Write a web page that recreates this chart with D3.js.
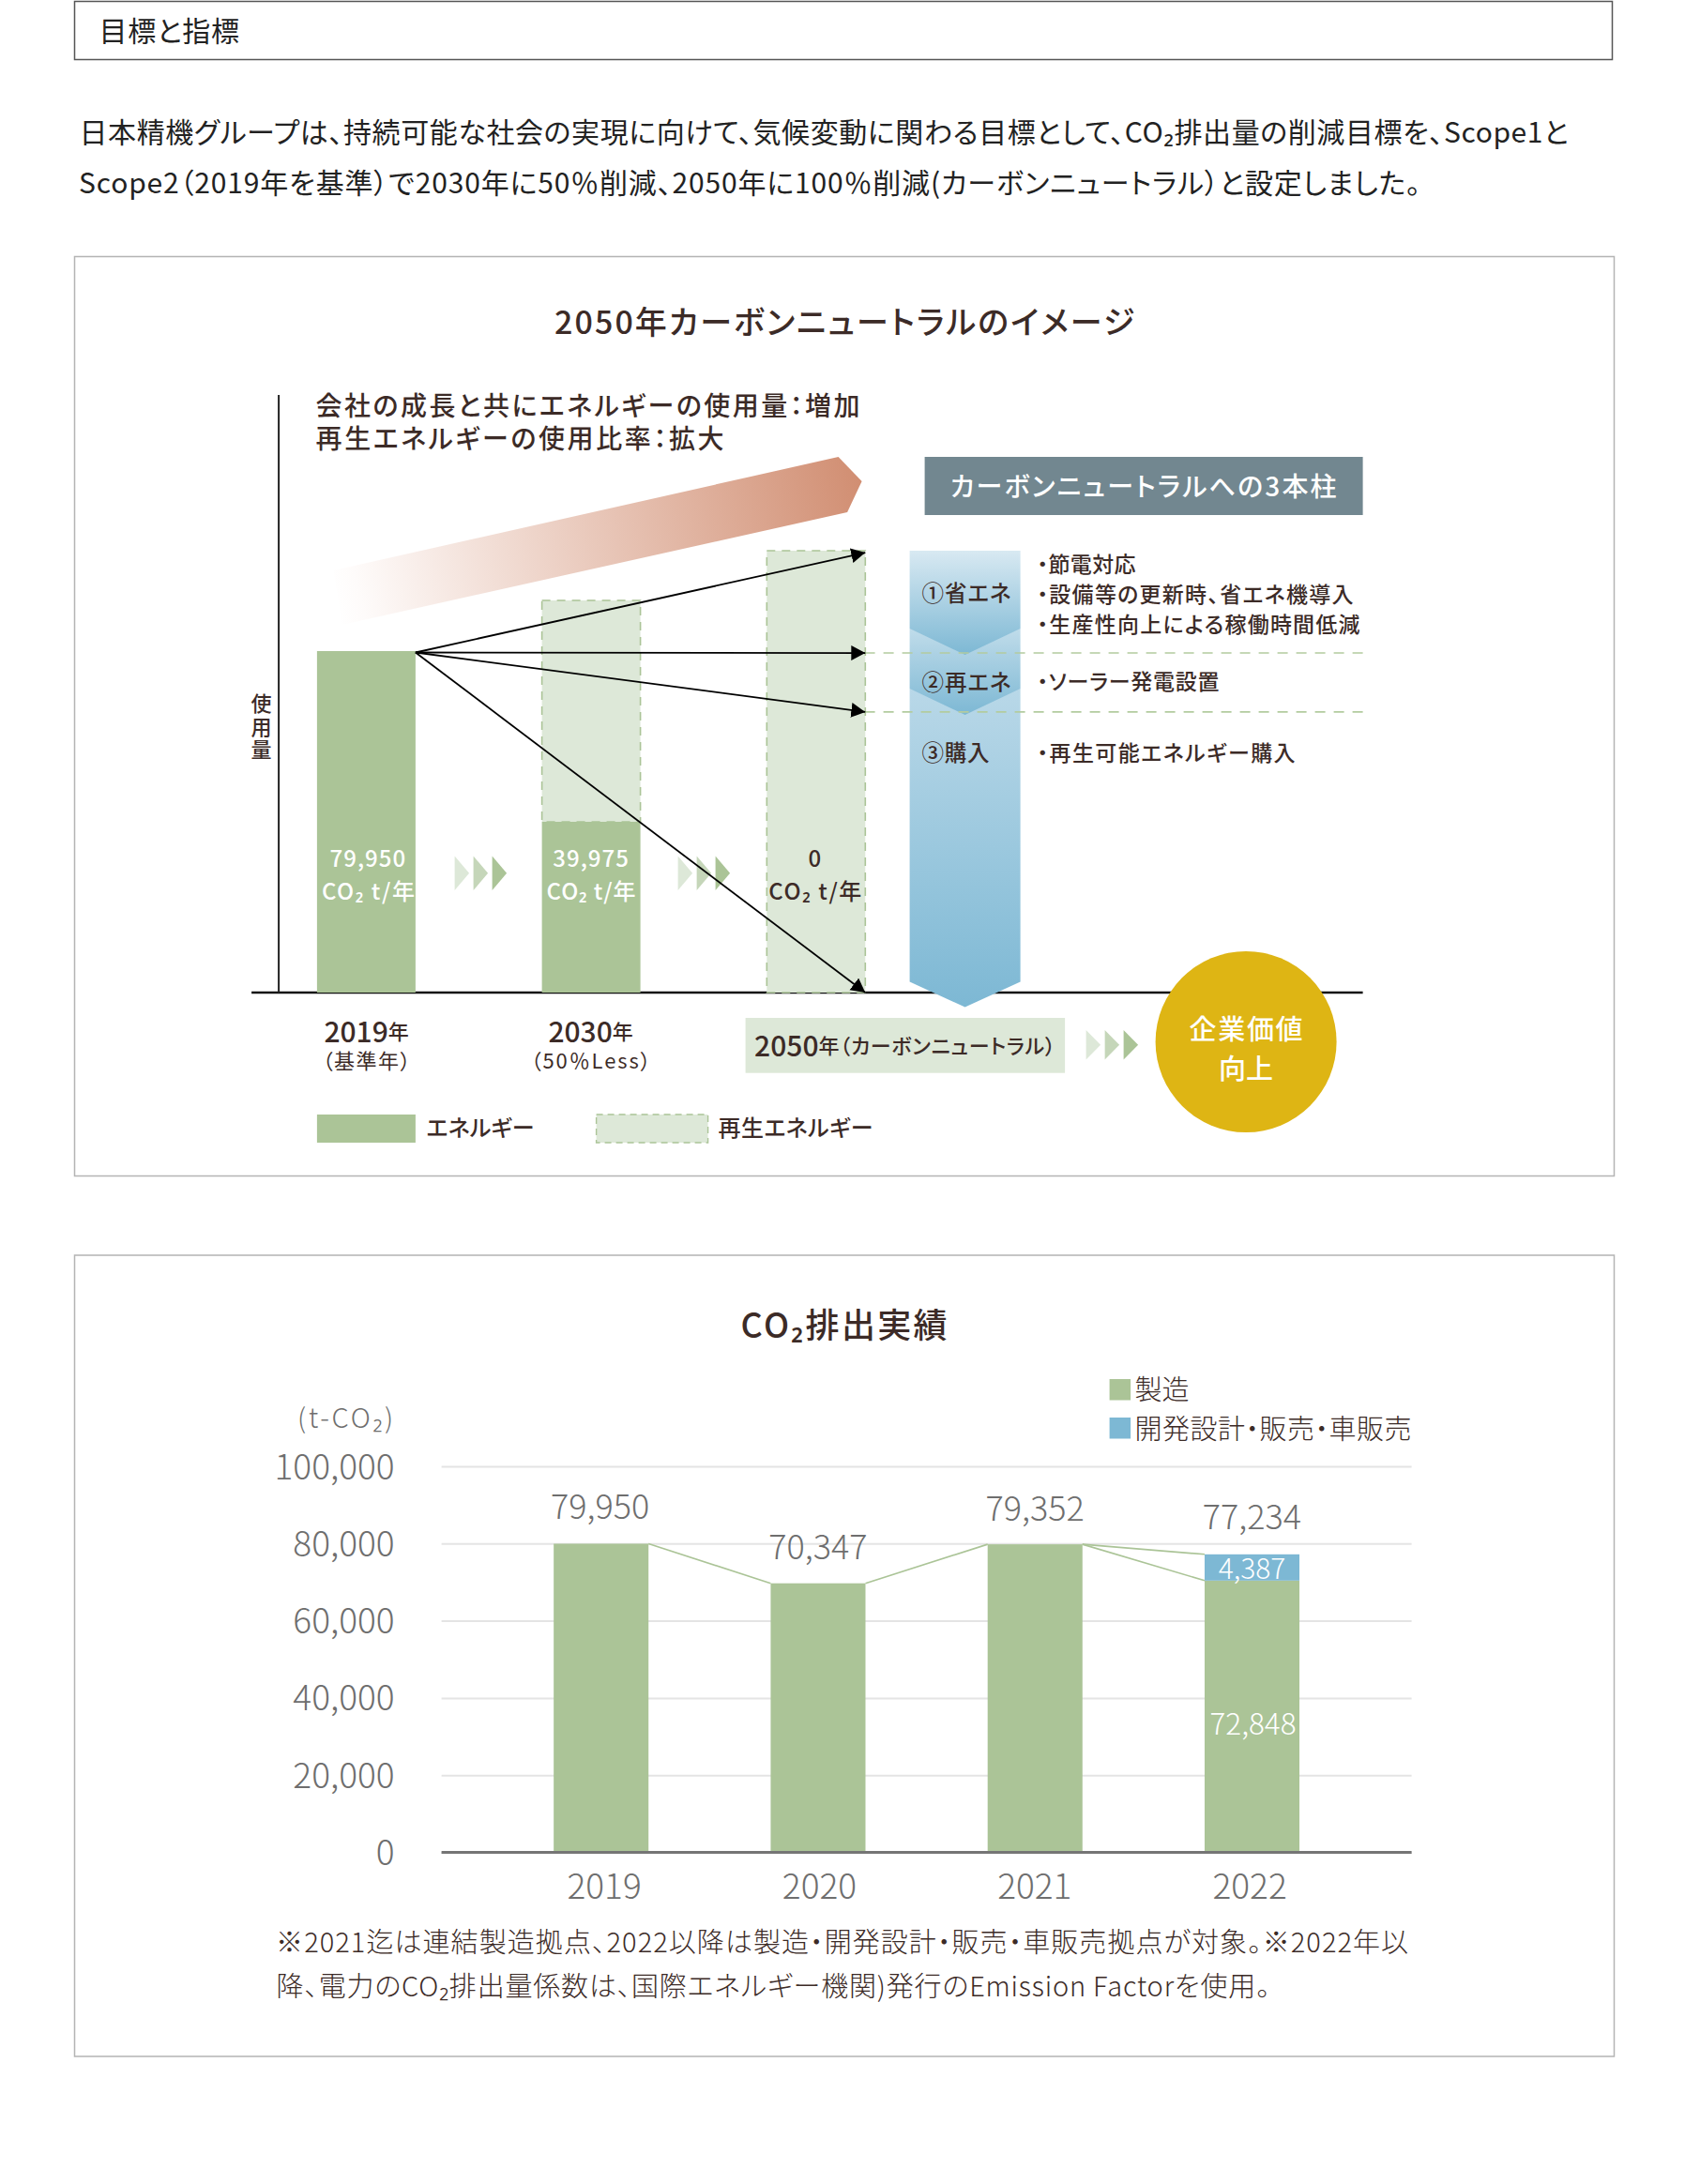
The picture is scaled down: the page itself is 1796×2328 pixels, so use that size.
<!DOCTYPE html>
<html lang="ja"><head><meta charset="utf-8">
<script src="https://cdn.jsdelivr.net/npm/d3@7/dist/d3.min.js"></script>
<style>
html,body{margin:0;padding:0;background:#fff}
svg{display:block}
text{font-family:"Noto Sans CJK JP","Noto Sans",sans-serif;font-feature-settings:"palt";dominant-baseline:central}
</style></head><body><div id="c"></div>
<script>
// ---- diagram data
const headingText = "目標と指標";
const introLines = ["日本精機グループは、持続可能な社会の実現に向けて、気候変動に関わる目標として、CO₂排出量の削減目標を、Scope1と",
  "Scope2（2019年を基準）で2030年に50％削減、2050年に100％削減(カーボンニュートラル）と設定しました。"];
const phases = ["2019","2030","2050"];
const energyValues = [79950,39975,0];          // CO2 energy part
const totalUsage = [79950,91800,103450];       // drawn height including renewables
const energyLabels = ["79,950","39,975","0"];
const arrowTargets = [103000,79500,65700,0];   // where the four arrows land
const pillarLevels = [79500,65700];            // dashed guide levels
const pillarNames = ["①省エネ","②再エネ","③購入"];
const pillarNotes = ["・節電対応","・設備等の更新時、省エネ機導入","・生産性向上による稼働時間低減","・ソーラー発電設置","・再生可能エネルギー購入"];
// ---- results chart data
const years = ["2019","2020","2021","2022"];
const manufacturing = [79950,69700,79800,70400]; // bar heights as drawn in the picture
const otherSites = [0,0,0,6800];                 // segment height as drawn in the picture
const totalLabels = ["79,950","70,347","79,352","77,234"];
const segmentLabels = ["4,387","72,848"];
const yTicks = [0,20000,40000,60000,80000,100000];
const legendLabels = ["製造","開発設計・販売・車販売"];
const notes = ["※2021迄は連結製造拠点、2022以降は製造・開発設計・販売・車販売拠点が対象。※2022年以",
  "降、電力のCO₂排出量係数は、国際エネルギー機関)発行のEmission Factorを使用。"];

const INK="#3c2b27", GREEN="#abc497", PALE="#dde8d8", MID="#c5d6b9", BLUE="#7db8d4";
const svg=d3.select("#c").append("svg").attr("width",1796).attr("height",2328).attr("viewBox","0 0 1796 2328");
const defs=svg.append("defs");

function T(g,s,x,y,o={}){
  const t=g.append("text").attr("x",x).attr("y",y-2.5).text(s)
    .attr("font-size",o.size||24).attr("font-weight",o.weight||400)
    .attr("fill",o.fill||INK).attr("text-anchor",o.anchor||"start");
  if(o.w) t.attr("textLength",o.w).attr("lengthAdjust","spacing");
  return t;
}
function grad(id,stops,x1,y1,x2,y2){
  const g=defs.append("linearGradient").attr("id",id).attr("gradientUnits","userSpaceOnUse")
    .attr("x1",x1).attr("y1",y1).attr("x2",x2).attr("y2",y2);
  stops.forEach(s=>g.append("stop").attr("offset",s[0]).attr("stop-color",s[1]));
}
const poly=(g,pts,fill)=>g.append("polygon").attr("points",pts.map(p=>p.join(",")).join(" ")).attr("fill",fill);

// heading + intro
svg.append("rect").attr("x",79.5).attr("y",1.5).attr("width",1639).attr("height",62).attr("fill","#fff").attr("stroke","#555").attr("stroke-width",1.5);
T(svg,headingText,105.5,33,{size:30,fill:"#222",w:149.5});
T(svg,introLines[0],84.5,141,{size:30,fill:"#222",w:1587});
T(svg,introLines[1],84,195.5,{size:30,fill:"#222",w:1430});

// panels
[[273.5,980],[1338,854]].forEach(p=>svg.append("rect").attr("x",79.5).attr("y",p[0]).attr("width",1641).attr("height",p[1])
  .attr("fill","#fff").attr("stroke","#b4b4b4").attr("stroke-width",1.5));

// ---------- panel 1
const p1=svg.append("g").attr("transform","translate(.6,0)");
T(p1,"2050年カーボンニュートラルのイメージ",590.5,343.5,{size:34,weight:500,w:618});

const x1=d3.scaleBand().domain(phases).range([337.3,921.7]).paddingInner(.562).paddingOuter(0);
const y1=d3.scaleLinear().domain([0,79950]).range([1058,694]);
T(p1,"会社の成長と共にエネルギーの使用量：増加",336,433,{size:28,weight:500,w:580});
T(p1,"再生エネルギーの使用比率：拡大",336,468,{size:28,weight:500,w:435});
grad("orange",[[0,"#fff"],[.05,"#fefbfa"],[1,"#d18e72"]],355,640,918,513);
poly(p1,[[355,608],[893,487],[918,513],[902.5,546],[364,666]],"url(#orange)");

// baseline
p1.append("line").attr("x1",267.5).attr("x2",1452).attr("y1",1058).attr("y2",1058).attr("stroke","#111").attr("stroke-width",2.5);

// pillar column
grad("b3",[[0,"#b9d8e8"],[1,BLUE]],0,734,0,1073);
grad("b2",[[0,"#c0dcea"],[1,BLUE]],0,670,0,762);
grad("b1",[[0,"#d8e9f2"],[1,BLUE]],0,587,0,698);
poly(p1,[[969,734],[1087,734],[1087,1046.5],[1028,1073.5],[969,1046.5]],"url(#b3)");
poly(p1,[[969,670],[1087,670],[1087,734],[1028,762],[969,734]],"url(#b2)");
poly(p1,[[969,587],[1087,587],[1087,670],[1028,698],[969,670]],"url(#b1)");

// bars
const bars=p1.append("g");
phases.forEach((d,i)=>{
  if(totalUsage[i]>energyValues[i])
    bars.append("rect").attr("x",x1(d)).attr("width",x1.bandwidth()).attr("y",y1(totalUsage[i])).attr("height",y1(energyValues[i])-y1(totalUsage[i]))
      .attr("fill",PALE).attr("stroke",GREEN).attr("stroke-width",1.6).attr("stroke-dasharray","9 7");
  bars.append("rect").attr("x",x1(d)).attr("width",x1.bandwidth()).attr("y",y1(energyValues[i])).attr("height",y1(0)-y1(energyValues[i])).attr("fill",GREEN);
});
p1.append("line").attr("x1",296.5).attr("x2",296.5).attr("y1",421).attr("y2",1058).attr("stroke","#222").attr("stroke-width",2);
T(p1,"使用量",278,739,{size:22,weight:500}).attr("writing-mode","vertical-rl").attr("letter-spacing",2.4).attr("y",739);

// dashed guides
pillarLevels.forEach(v=>p1.append("line").attr("x1",921).attr("x2",1452).attr("y1",y1(v)).attr("y2",y1(v))
  .attr("stroke","#b3cc9f").attr("stroke-width",1.6).attr("stroke-dasharray","11 9"));

// value labels inside bars
phases.forEach((d,i)=>{
  const cx=x1(d)+x1.bandwidth()/2+(i==0?2:i==2?-1:0), col=i==2?INK:"#fff", w=i==1?95:99;
  T(p1,energyLabels[i],cx,915.5,{size:24,weight:500,fill:col,anchor:"middle"}).attr("letter-spacing",1);
  T(p1,"CO₂ t/年",cx,950.5,{size:24,weight:500,fill:col,anchor:"middle",w});
});
// chevrons
function chevrons(x0,y0,h,step,w){
  [PALE,MID,GREEN].forEach((c,i)=>{const x=x0+i*step;poly(p1,[[x,y0],[x+w,y0+h/2],[x,y0+h]],c);});
}
chevrons(484,912.6,36.5,20,15.5);
chevrons(722,912.6,36.5,20,15.5);
chevrons(1157,1098,31.5,20,15.5);

// arrows
const mk=defs.append("marker").attr("id","ah").attr("markerUnits","userSpaceOnUse").attr("markerWidth",18).attr("markerHeight",18)
  .attr("refX",15).attr("refY",8).attr("orient","auto");
mk.append("path").attr("d","M0,0L15,8L0,16Z").attr("fill","#000");
arrowTargets.forEach(v=>p1.append("line").attr("x1",x1("2019")+x1.bandwidth()).attr("y1",695.5)
  .attr("x2",x1("2050")+x1.bandwidth()).attr("y2",y1(v)).attr("stroke","#000").attr("stroke-width",1.8).attr("marker-end","url(#ah)"));

// pillar header
p1.append("rect").attr("x",985).attr("y",487).attr("width",467).attr("height",62).attr("fill","#728790");
T(p1,"カーボンニュートラルへの3本柱",1218,519.5,{size:28,weight:500,fill:"#fff",anchor:"middle",w:412});
[633,728,803.5].forEach((y,i)=>T(p1,pillarNames[i],982,y,{size:23.5,weight:500,w:i==2?72:95}));
[[602.5,105],[634.5,337],[666.5,344],[727,194],[803.5,275]].forEach((r,i)=>T(p1,pillarNotes[i],1105,r[0],{size:23,weight:500,w:r[1]}));

// goal + labels
p1.append("rect").attr("x",794).attr("y",1085).attr("width",340.5).attr("height",58.7).attr("fill",PALE);
function yearLabel(x,y,yr,rest,anchor){
  const t=T(p1,yr,x,y,{size:30,weight:500,anchor});
  t.append("tspan").attr("font-size",22).text(rest);
  return t;
}
yearLabel(803.5,1115.5,"2050","年（カーボンニュートラル）","start").select("tspan").attr("letter-spacing",.7);
yearLabel(390,1100.5,"2019","年","middle");
yearLabel(629,1100.5,"2030","年","middle");
T(p1,"（基準年）",390,1131.5,{size:22,anchor:"middle",w:94});
T(p1,"（50％Less）",629,1131.5,{size:22,anchor:"middle",w:128});
// circle
p1.append("circle").attr("cx",1327.5).attr("cy",1110.5).attr("r",96.5).attr("fill","#deb514");
T(p1,"企業価値",1327.5,1097,{size:29,weight:500,fill:"#fff",anchor:"middle",w:121});
T(p1,"向上",1327.5,1139,{size:29,weight:500,fill:"#fff",anchor:"middle",w:58});
// legend
p1.append("rect").attr("x",337.3).attr("y",1188).attr("width",105).attr("height",30).attr("fill",GREEN);
T(p1,"エネルギー",454,1202.5,{size:24,weight:500,w:115});
p1.append("rect").attr("x",635).attr("y",1188).attr("width",119).attr("height",30).attr("fill",PALE).attr("stroke",GREEN).attr("stroke-width",1.4).attr("stroke-dasharray","7 5");
T(p1,"再生エネルギー",765,1202.5,{size:24,weight:500,w:165});

// ---------- panel 2
const p2=svg.append("g").attr("transform","translate(.6,0)");
T(p2,"CO₂排出実績",789,1412,{size:36,weight:500,w:220});
const xb=d3.scaleBand().domain(years).range([470,1504]).paddingInner(.563).paddingOuter(.517);
const yb=d3.scaleLinear().domain([0,100000]).range([1974.5,1563]);
const fmt=d3.format(",");
const gy=p2.append("g").attr("transform","translate(470,0)")
  .call(d3.axisLeft(yb).tickValues(yTicks).tickFormat(fmt).tickSize(-1034).tickPadding(50));
gy.select(".domain").remove();
gy.selectAll("line").attr("stroke","#e4e4e4").attr("stroke-width",2);
gy.selectAll("text").attr("font-size",37).attr("font-weight",300).attr("fill","#6e6e6e").attr("dy",-3);
T(p2,"(t-CO₂)",418.5,1511,{size:29,weight:300,fill:"#6e6e6e",anchor:"end",w:102});
// bars
const g2=p2.append("g");
years.forEach((d,i)=>{
  g2.append("rect").attr("x",xb(d)).attr("width",xb.bandwidth()).attr("y",yb(manufacturing[i])).attr("height",yb(0)-yb(manufacturing[i])).attr("fill",GREEN);
  if(otherSites[i]) g2.append("rect").attr("x",xb(d)).attr("width",xb.bandwidth())
    .attr("y",yb(manufacturing[i]+otherSites[i])).attr("height",yb(0)-yb(otherSites[i])).attr("fill",BLUE);
});
// connectors
const conn=(i,j,vi,vj)=>g2.append("line").attr("x1",xb(years[i])+xb.bandwidth()).attr("y1",yb(vi)).attr("x2",xb(years[j])).attr("y2",yb(vj))
  .attr("stroke",GREEN).attr("stroke-width",1.6);
conn(0,1,manufacturing[0],manufacturing[1]);
conn(1,2,manufacturing[1],manufacturing[2]);
conn(2,3,manufacturing[2],manufacturing[3]);
conn(2,3,manufacturing[2],manufacturing[3]+otherSites[3]);
p2.append("line").attr("x1",470).attr("x2",1504).attr("y1",yb(0)).attr("y2",yb(0)).attr("stroke","#757575").attr("stroke-width",3);
// axis labels
const xl=d3.scalePoint().domain(years).range([643,1331]);
const gx=p2.append("g").attr("transform","translate(0,2008)").call(d3.axisBottom(xl).tickSize(0).tickPadding(0));
gx.select(".domain").remove();
gx.selectAll("text").attr("font-size",37).attr("font-weight",300).attr("fill","#6e6e6e").attr("dy",0).attr("y",0);
// labels
[1605.5,1648,1607,1616].forEach((y,i)=>T(p2,totalLabels[i],xb(years[i])+xb.bandwidth()/2-(i==0?1:0),y,{size:36,weight:300,fill:"#6e6e6e",anchor:"middle"}));
T(p2,segmentLabels[0],xb("2022")+xb.bandwidth()/2,1672.5,{size:30,weight:300,fill:"#fff",anchor:"middle"});
T(p2,segmentLabels[1],xb("2022")+xb.bandwidth()/2+1,1837.5,{size:31.5,weight:300,fill:"#fff",anchor:"middle"});
// legend
[[1470,GREEN,1481.5],[1511,BLUE,1523]].forEach((r,i)=>{
  p2.append("rect").attr("x",1182).attr("y",r[0]).attr("width",22.5).attr("height",22.5).attr("fill",r[1]);
  T(p2,legendLabels[i],1209,r[2],{size:29,weight:300,w:i?295:58});
});
// notes
T(p2,notes[0],293.5,2070,{size:29,weight:300,w:1207});
T(p2,notes[1],294,2117.5,{size:29,weight:300,w:1059});
</script></body></html>
